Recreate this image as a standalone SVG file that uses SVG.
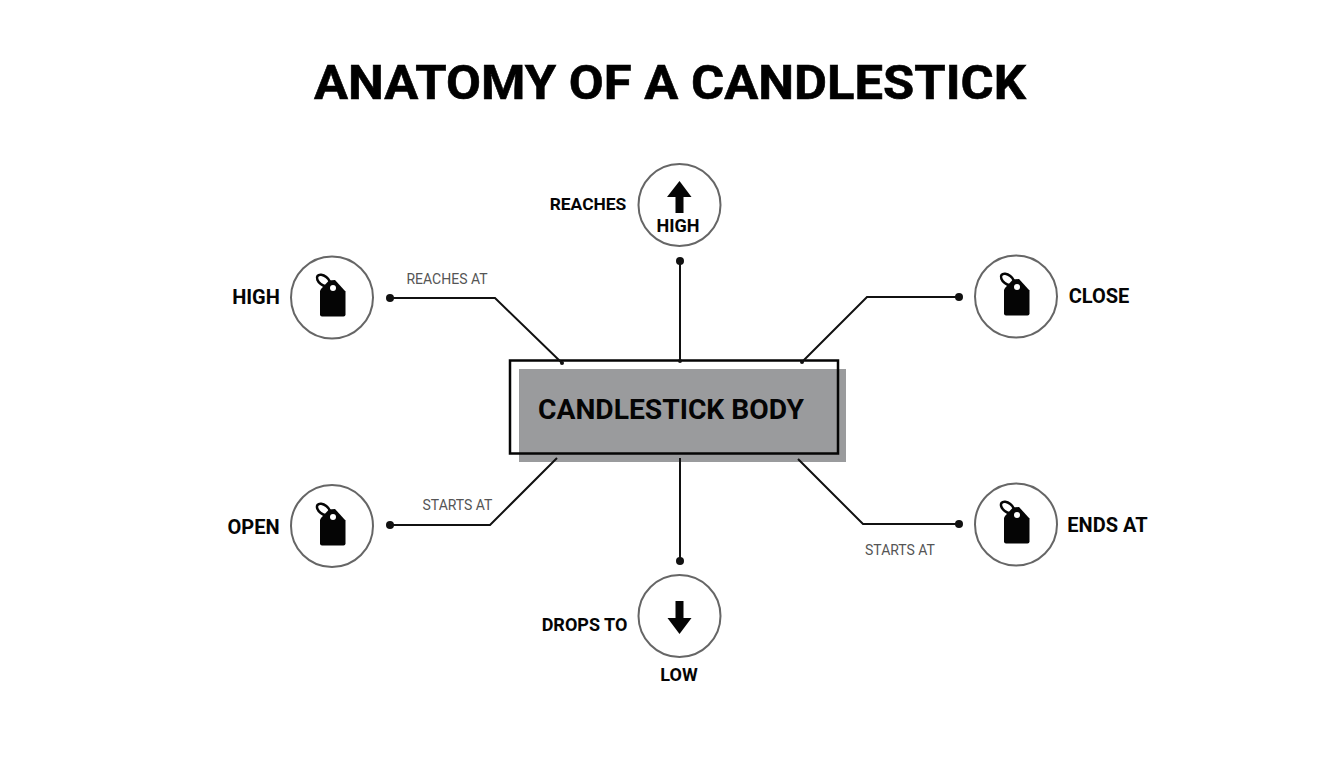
<svg xmlns="http://www.w3.org/2000/svg" width="1344" height="768" viewBox="0 0 1344 768">
<style>
text{font-family:Roboto,"Liberation Sans",sans-serif;fill:#050505}
.t{font-weight:700;font-size:20px}
.n{font-weight:700;font-size:18px;text-anchor:middle}
.s{font-size:14px;fill:#555;text-anchor:middle}
.c{fill:#fff;stroke:#666;stroke-width:2}
.l{fill:none;stroke:#111;stroke-width:2}
.d{fill:#111}
</style>
<defs>
<g id="tag">
<ellipse cx="-8.500" cy="-16.500" rx="7.500" ry="4.500" transform="rotate(38 -8.500 -16.500)" fill="none" stroke="#050505" stroke-width="2.500"/>
<path d="M-11 -8L-3 -16.500L3 -17L13.500 -5.500V17.500Q13.500 19.500 11.500 19.500H-10Q-12 19.500 -12 17.500V-6Z" fill="#050505"/>
<circle cx="1" cy="-9" r="3" fill="#fff"/>
</g>
</defs>
<rect width="1344" height="768" fill="#fff"/>
<text id="title" x="670" y="99" text-anchor="middle" font-weight="700" font-size="49" textLength="712" lengthAdjust="spacingAndGlyphs" style="fill:#000;stroke:#000;stroke-width:.6">ANATOMY OF A CANDLESTICK</text>
<g id="body">
<rect x="519" y="369" width="327" height="93" fill="#9a9b9d"/>
<rect x="510" y="360.500" width="328" height="93" fill="none" stroke="#050505" stroke-width="2.500"/>
<text x="671" y="419" text-anchor="middle" font-weight="700" font-size="28" textLength="266" lengthAdjust="spacingAndGlyphs">CANDLESTICK BODY</text>
</g>
<g id="connectors">
<path class="l" d="M390 298H495L562 363"/><circle class="d" cx="390" cy="298" r="4"/><circle class="d" cx="562" cy="363" r="2"/>
<path class="l" d="M680 261V361"/><circle class="d" cx="680" cy="261" r="4"/><circle class="d" cx="680" cy="361" r="2"/>
<path class="l" d="M959 297H867L802 362"/><circle class="d" cx="959" cy="297" r="4"/><circle class="d" cx="802" cy="362" r="2"/>
<path class="l" d="M390 525H490L557 458"/><circle class="d" cx="390" cy="525" r="4"/>
<path class="l" d="M680 458V561"/><circle class="d" cx="680" cy="561" r="4"/>
<path class="l" d="M959 524H863L798 459"/><circle class="d" cx="959" cy="524" r="4"/>
<text class="s" x="447" y="284">REACHES AT</text>
<text class="s" x="457.500" y="510">STARTS AT</text>
<text class="s" x="900" y="555">STARTS AT</text>
</g>
<g id="node-high-top">
<circle class="c" cx="679.500" cy="205" r="41"/>
<path d="M679.500 181L691.500 197H683.500V213H675.500V197H667Z" fill="#050505"/>
<text class="n" x="678" y="232">HIGH</text>
<text class="n" x="588" y="210" style="font-size:17.400px">REACHES</text>
</g>
<g id="node-high-left">
<circle class="c" cx="332" cy="297.500" r="41"/>
<use href="#tag" x="332" y="297"/>
<text class="t" x="256" y="304" text-anchor="middle">HIGH</text>
</g>
<g id="node-close">
<circle class="c" cx="1016" cy="296.500" r="41"/>
<use href="#tag" x="1016" y="296"/>
<text class="t" x="1099" y="303" text-anchor="middle">CLOSE</text>
</g>
<g id="node-open">
<circle class="c" cx="332" cy="526" r="41"/>
<use href="#tag" x="332" y="526"/>
<text class="t" x="253.500" y="534" text-anchor="middle">OPEN</text>
</g>
<g id="node-ends">
<circle class="c" cx="1016" cy="524.500" r="41"/>
<use href="#tag" x="1016" y="524"/>
<text class="t" x="1107.500" y="532" text-anchor="middle">ENDS AT</text>
</g>
<g id="node-low">
<circle class="c" cx="679.500" cy="616" r="41"/>
<path d="M675.500 601H683.500V618H691.500L679.500 634L667.500 618H675.500Z" fill="#050505"/>
<text class="n" x="584.500" y="631">DROPS TO</text>
<text class="n" x="679" y="681">LOW</text>
</g>
</svg>
